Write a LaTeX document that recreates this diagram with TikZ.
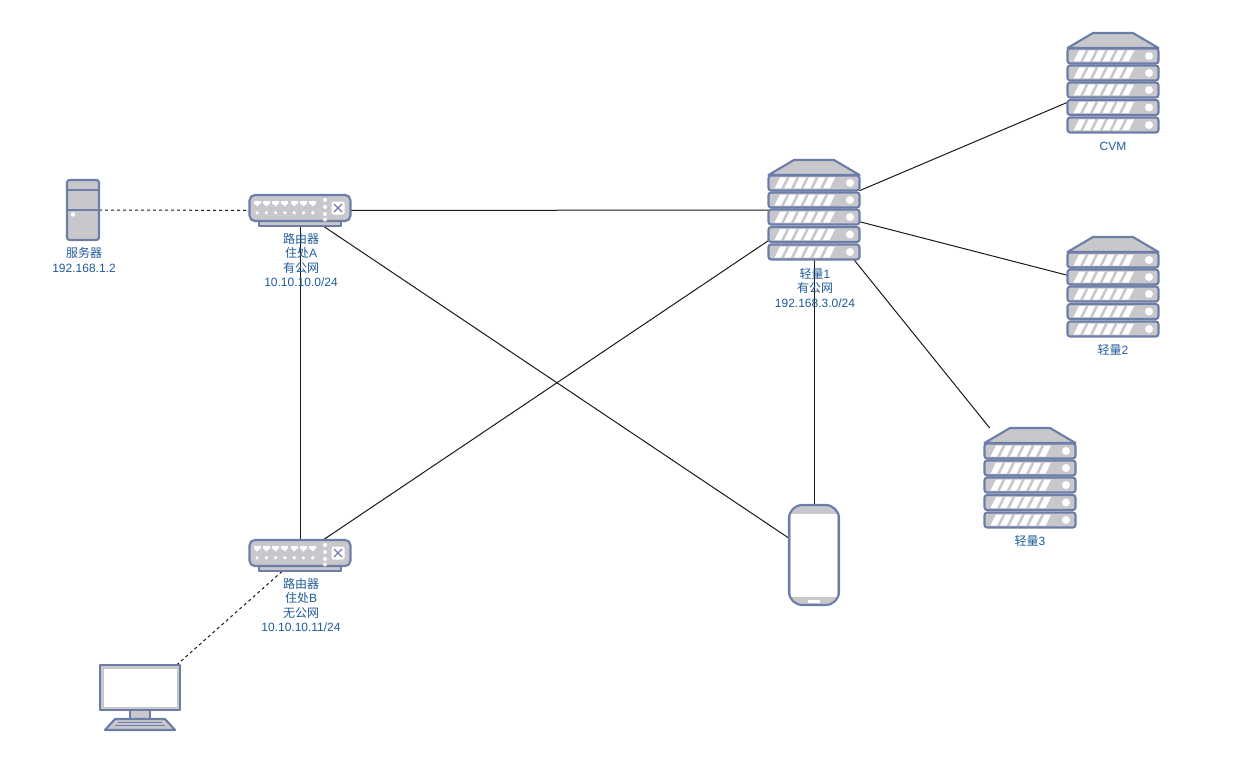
\documentclass[tikz,border=0pt]{standalone}
\usepackage{fontspec}
\usepackage{tikz}
\setmainfont{Liberation Sans}
\newfontfamily\cjk{Noto Sans CJK SC}
\newcommand{\cn}[1]{{\cjk #1}}
\definecolor{devline}{HTML}{6C7EA8}
\definecolor{devfill}{HTML}{C8C8CC}
\definecolor{tagblue}{HTML}{1F5A9A}

\begin{document}
\begin{tikzpicture}[x=0.75pt,y=-0.75pt]
 \tikzset{slot/.style={inner sep=0,outer sep=0,minimum width=#1},
  link/.style={line width=0.75pt,black!90},
  dotlink/.style={link,dash pattern=on 2.25pt off 2.25pt},
  tag/.style={align=center,text=tagblue,inner sep=0,font=\fontsize{9}{10.9}\selectfont},
  dev/.style={draw=devline,fill=devfill,line width=1.6pt,line join=round},
  rackstack/.pic={
   \draw[dev] (-45.5,-35) -- (-20,-50) -- (20,-50) -- (45.5,-35) -- cycle;
   \foreach \yc in {-27,-10,7,24.5,42} {
    \draw[dev,rounded corners=2pt] (-45.5,\yc-7.5) rectangle (45.5,\yc+7.5);
    \foreach \i in {0,...,5}
     \fill[white] (-39.5+9.7*\i,\yc+5.5) -- (-34+9.7*\i,\yc-5.5) -- (-27.5+9.7*\i,\yc-5.5) -- (-33+9.7*\i,\yc+5.5) -- cycle;
    \fill[white] (36,\yc) circle (4);
   }
  },
  hubbox/.pic={
   \draw[dev] (-41,10.5) rectangle (41,15.5);
   \draw[dev,rounded corners=4pt] (-50.5,-15.5) rectangle (50.5,10.5);
   \foreach \i in {0,...,6} {
    \fill[white] (-46.5+9.3*\i,-9.5) rectangle (-39.5+9.3*\i,-7);
    \fill[white] (-46+9.3*\i,-7) -- (-40+9.3*\i,-7) -- (-43+9.3*\i,-4) -- cycle;
    \fill[white] (-43+9.3*\i,2.3) circle (1.8);
   }
   \foreach \yc in {-10.5,-3.5,3.5,9}
    \fill[white] (25,\yc) circle (2);
   \fill[white,rounded corners=1.5pt] (31.5,-9) rectangle (44.5,4);
   \draw[devline,line width=1pt] (34,-6.5) -- (42,1.5) (42,-6.5) -- (34,1.5);
  },
  towerbox/.pic={
   \draw[dev,rounded corners=2pt] (-16,-30) rectangle (16,30);
   \draw[devline,line width=1.5pt] (-16,-20) -- (16,-20) (-16,0) -- (16,0);
   \fill[white] (-10,4.5) circle (2.2);
  },
  screenbox/.pic={
   \draw[dev] (-10,12.5) rectangle (10,21.5);
   \draw[dev] (-25,21.5) -- (25,21.5) -- (35,32.5) -- (-35,32.5) -- cycle;
   \draw[devline,line width=1pt] (-22,25) -- (22,25) (-25,28) -- (25,28);
   \draw[dev] (-40,-32.5) rectangle (40,12.5);
   \fill[white] (-36.5,-29) rectangle (36.5,9);
  },
  phonebox/.pic={
   \draw[dev,rounded corners=10pt] (-25,-50) rectangle (25,50);
   \fill[white] (-23.3,-41.5) rectangle (23.3,41.5);
   \fill[white] (-6,44.5) rectangle (5.5,47.5);
  }}
 \useasboundingbox (0,0) rectangle (1238,763);

 \node[slot=24pt,minimum height=45pt] (tower) at (83,210) {};
 \node[slot=76pt,minimum height=23.25pt] (hubA) at (300,210.5) {};
 \node[slot=76pt,minimum height=23.25pt] (hubB) at (300,555.5) {};
 \node[slot=60pt,minimum height=48.75pt] (screen) at (140,697.5) {};
 \node[slot=37.5pt,minimum height=75pt] (phone) at (814,555) {};
 \node[slot=68.25pt,minimum height=75pt] (rack1) at (814,210) {};
 \node[slot=68.25pt,minimum height=75pt] (cvm) at (1113,83) {};
 \node[slot=68.25pt,minimum height=75pt] (rack2) at (1113,287) {};
 \node[slot=68.25pt,minimum height=75pt] (rack3) at (1030,478) {};

 \draw[dotlink] (tower) -- (hubA);
 \draw[dotlink] (screen) -- (hubB);
 \draw[link] (hubA) -- (rack1);
 \draw[link] (hubA) -- (hubB);
 \draw[link] (hubA) -- (phone);
 \draw[link] (hubB) -- (rack1);
 \draw[link] (rack1) -- (phone);
 \draw[link] (rack1) -- (cvm);
 \draw[link] (rack1) -- (rack2);
 \draw[link] (rack1) -- (rack3);

 \pic at (tower) {towerbox};
 \pic at (hubA) {hubbox};
 \pic at (hubB) {hubbox};
 \pic at (screen) {screenbox};
 \pic at (phone) {phonebox};
 \pic at (rack1) {rackstack};
 \pic at (cvm) {rackstack};
 \pic at (rack2) {rackstack};
 \pic at (rack3) {rackstack};

 \node[tag] (towertag) at (84,260) {\cn{服务器}\\192.168.1.2};
 \node[tag] (hubAtag) at (301,260) {\cn{路由器}\\\cn{住处}A\\\cn{有公网}\\10.10.10.0/24};
 \node[tag] (hubBtag) at (301,605) {\cn{路由器}\\\cn{住处}B\\\cn{无公网}\\10.10.10.11/24};
 \node[tag] (rack1tag) at (815,288) {\cn{轻量}1\\\cn{有公网}\\192.168.3.0/24};
 \node[tag] (cvmtag) at (1113,146) {CVM};
 \node[tag] (rack2tag) at (1113,350) {\cn{轻量}2};
 \node[tag] (rack3tag) at (1030,541) {\cn{轻量}3};
\end{tikzpicture}
\end{document}
